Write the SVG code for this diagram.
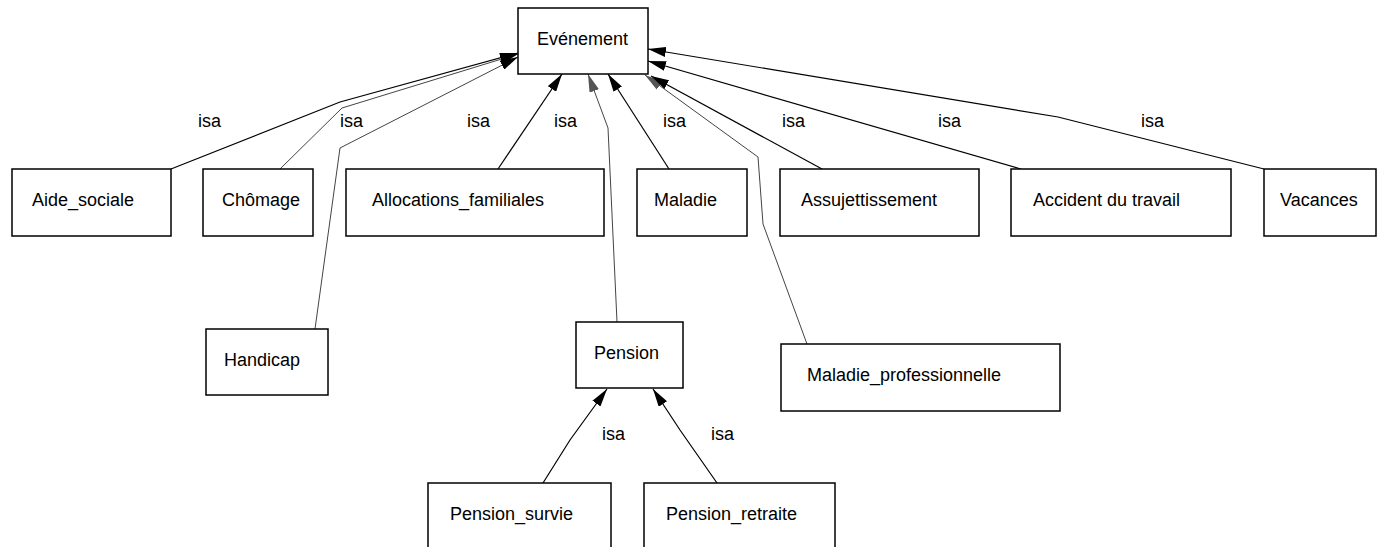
<svg xmlns="http://www.w3.org/2000/svg" width="1389" height="547" viewBox="0 0 1389 547">
<style>
.box{fill:#fff;stroke:#000;stroke-width:1.5}
.lbl{font-family:"Liberation Sans",Arial,sans-serif;font-size:18px;fill:#000}
.isa{font-family:"Liberation Sans",Arial,sans-serif;font-size:18px;fill:#000}
.c{fill:none;stroke:#000;stroke-width:1.2;marker-end:url(#arr)}
.cl{fill:none;stroke:#444;stroke-width:1;marker-end:url(#arr)}
.cg{fill:none;stroke:#444;stroke-width:1;marker-end:url(#arrg)}
</style>
<defs>
<marker id="arr" markerUnits="userSpaceOnUse" markerWidth="18" markerHeight="10" refX="18" refY="5" orient="auto" viewBox="0 0 18 10">
<path d="M0,0 L18,5 L0,10 z" fill="#000"/>
</marker>
<marker id="arrg" markerUnits="userSpaceOnUse" markerWidth="18" markerHeight="10" refX="18" refY="5" orient="auto" viewBox="0 0 18 10">
<path d="M0,0 L18,5 L0,10 z" fill="#555"/>
</marker>
</defs>
<rect width="1389" height="547" fill="#fff"/>
<g id="connectors">
<polyline class="c" points="171,169 340,102 518,53"/>
<polyline class="cl" points="280,169 342,108 518,54"/>
<polyline class="cl" points="315,329 340,148 518,57"/>
<polyline class="c" points="498,169 562,74"/>
<polyline class="cg" points="617,322 608,128 588,74"/>
<polyline class="c" points="669,169 608,74"/>
<polyline class="cg" points="807,344 763,224 758,157 645,75"/>
<polyline class="c" points="822,169 651,76"/>
<polyline class="c" points="1021,169 648,61"/>
<polyline class="c" points="1264,169 1058,117 648,49"/>
<polyline class="c" points="543,483 570,440 607,389"/>
<polyline class="c" points="717,483 680,430 653,389"/>
<g id="isa-labels">
<text class="isa" x="198" y="127">isa</text>
<text class="isa" x="340" y="127">isa</text>
<text class="isa" x="467" y="127">isa</text>
<text class="isa" x="554" y="127">isa</text>
<text class="isa" x="663" y="127">isa</text>
<text class="isa" x="782" y="127">isa</text>
<text class="isa" x="938" y="127">isa</text>
<text class="isa" x="1141" y="127">isa</text>
<text class="isa" x="602" y="440">isa</text>
<text class="isa" x="711" y="440">isa</text>
</g>
</g>
<g id="evenement"><rect class="box" x="518" y="8" width="130" height="66"/><text class="lbl" x="537" y="45">Evénement</text></g>
<g id="aide_sociale"><rect class="box" x="12" y="169" width="159" height="67"/><text class="lbl" x="32" y="206">Aide_sociale</text></g>
<g id="chomage"><rect class="box" x="203" y="169" width="110" height="67"/><text class="lbl" x="222" y="206">Chômage</text></g>
<g id="allocations_familiales"><rect class="box" x="346" y="169" width="258" height="67"/><text class="lbl" x="372" y="206">Allocations_familiales</text></g>
<g id="maladie"><rect class="box" x="637" y="169" width="110" height="67"/><text class="lbl" x="654" y="206">Maladie</text></g>
<g id="assujettissement"><rect class="box" x="780" y="169" width="199" height="67"/><text class="lbl" x="801" y="206">Assujettissement</text></g>
<g id="accident_du_travail"><rect class="box" x="1011" y="169" width="220" height="67"/><text class="lbl" x="1033" y="206">Accident du travail</text></g>
<g id="vacances"><rect class="box" x="1264" y="169" width="112" height="67"/><text class="lbl" x="1280" y="206">Vacances</text></g>
<g id="handicap"><rect class="box" x="206" y="329" width="122" height="66"/><text class="lbl" x="224" y="366">Handicap</text></g>
<g id="pension"><rect class="box" x="576" y="322" width="107" height="66"/><text class="lbl" x="594" y="359">Pension</text></g>
<g id="maladie_professionnelle"><rect class="box" x="781" y="344" width="279" height="67"/><text class="lbl" x="807" y="381">Maladie_professionnelle</text></g>
<g id="pension_survie"><rect class="box" x="428" y="483" width="183" height="70"/><text class="lbl" x="450" y="520">Pension_survie</text></g>
<g id="pension_retraite"><rect class="box" x="644" y="483" width="191" height="70"/><text class="lbl" x="666" y="520">Pension_retraite</text></g>
</svg>
